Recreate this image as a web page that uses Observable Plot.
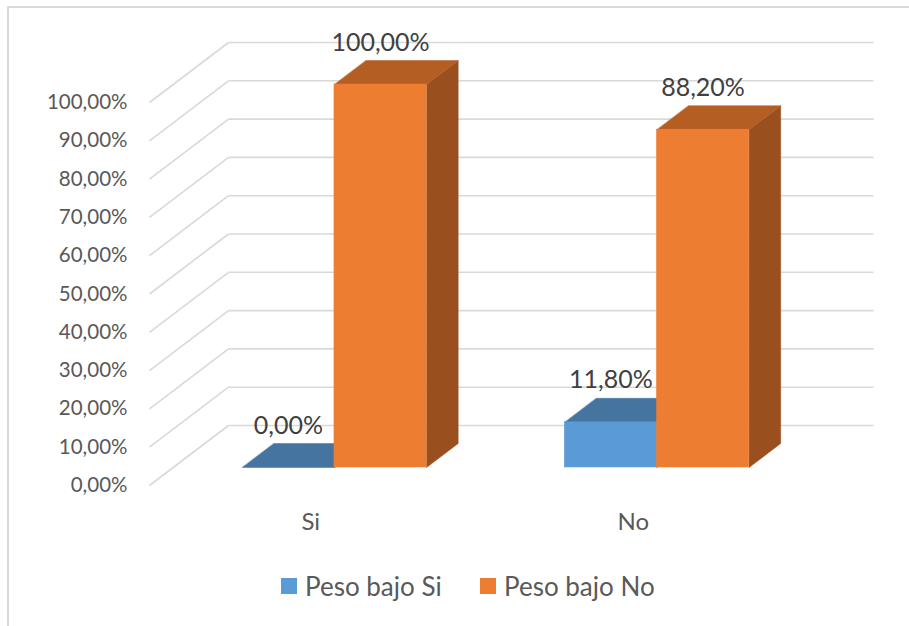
<!DOCTYPE html>
<html>
<head>
<meta charset="utf-8">
<script src="https://cdn.jsdelivr.net/npm/d3@7"></script>
<script src="https://cdn.jsdelivr.net/npm/@observablehq/plot@0.6"></script>
<style>
  html, body { margin: 0; padding: 0; background: #fff; }
  #wrap { position: relative; width: 909px; height: 626px; overflow: hidden; font-family: Lato, "Open Sans", sans-serif; }
  #frame { position: absolute; left: 7px; top: 6px; width: 1000px; height: 700px; border: 2px solid #D9D9D9; box-sizing: border-box; }
  #chart { position: absolute; left: 0; top: 0; }
  .leg { position: absolute; top: 571px; display: flex; align-items: center; font-size: 26px; color: #595959; line-height: 30px; }
  .sw { width: 16px; height: 16px; margin-right: 8px; }
</style>
</head>
<body>
<div id="wrap">
  <div id="frame"></div>
  <div id="chart"></div>
  <div class="leg" style="left:281px"><span class="sw" style="background:#5B9BD5"></span><span id="l0"></span></div>
  <div class="leg" style="left:480px"><span class="sw" style="background:#ED7D31"></span><span id="l1"></span></div>
</div>
<script>
const categories = ["Si", "No"];
const seriesNames = ["Peso bajo Si", "Peso bajo No"];
const pesoBajoSi = [0.0, 11.8];
const pesoBajoNo = [100.0, 88.2];
const yTicks = [0, 10, 20, 30, 40, 50, 60, 70, 80, 90, 100];

// 3D geometry (style constants)
const W = 909, H = 560;
const mL = 149, mR = 36, mT = 42, mB = 75;
const depthPxX = 79, depthPxY = 60;
const plotW = W - mL - mR, plotH = H - mT - mB;
const DX = 2 * depthPxX / (plotW - depthPxX);        // depth in x-data units
const DY = 100 * depthPxY / (plotH - depthPxY);      // depth in y-data units
const Z0 = 0.3, Z1 = 0.7;                             // bar depth span
const BW = 1 / 3.5;                                   // bar width (gap 150%)

const fmt = v => v.toFixed(2).replace(".", ",") + "%";

const seriesVals = [pesoBajoSi, pesoBajoNo];
const bars = [];
seriesVals.forEach((vals, s) => {
  categories.forEach((c, i) => {
    const xl = i + 0.5 - BW + s * BW;
    bars.push({s, c, i, v: vals[i], xl, xr: xl + BW, id: s + "-" + i});
  });
});

function topFace(b) {
  return [
    {id: b.id, x: b.xl + Z0 * DX, y: b.v + Z0 * DY},
    {id: b.id, x: b.xr + Z0 * DX, y: b.v + Z0 * DY},
    {id: b.id, x: b.xr + Z1 * DX, y: b.v + Z1 * DY},
    {id: b.id, x: b.xl + Z1 * DX, y: b.v + Z1 * DY}
  ];
}
function sideFace(b) {
  return [
    {id: b.id, x: b.xr + Z0 * DX, y: Z0 * DY},
    {id: b.id, x: b.xr + Z1 * DX, y: Z1 * DY},
    {id: b.id, x: b.xr + Z1 * DX, y: b.v + Z1 * DY},
    {id: b.id, x: b.xr + Z0 * DX, y: b.v + Z0 * DY}
  ];
}

const colors = [
  {front: "#5B9BD5", top: "#44749F", side: "#3F6E99"},
  {front: "#ED7D31", top: "#B55E23", side: "#9A4F1E"}
];

const barMarks = [];
[0, 1].forEach(s => {
  const bs = bars.filter(b => b.s === s);
  barMarks.push(Plot.line(bs.flatMap(sideFace), {x: "x", y: "y", z: "id", fill: colors[s].side, stroke: colors[s].side, strokeWidth: 0.5, curve: "linear-closed"}));
  barMarks.push(Plot.line(bs.flatMap(topFace), {x: "x", y: "y", z: "id", fill: colors[s].top, stroke: colors[s].top, strokeWidth: 0.5, curve: "linear-closed"}));
  barMarks.push(Plot.rect(bs, {x1: d => d.xl + Z0 * DX, x2: d => d.xr + Z0 * DX, y1: Z0 * DY, y2: d => d.v + Z0 * DY, fill: colors[s].front, stroke: colors[s].front, strokeWidth: 0.5}));
});

const chart = Plot.plot({
  width: W, height: H,
  marginLeft: mL, marginRight: mR, marginTop: mT, marginBottom: mB,
  x: {domain: [0, 2 + DX], axis: null},
  y: {domain: [0, 100 + DY], axis: null},
  style: {fontFamily: "Lato, 'Open Sans', sans-serif", color: "#595959", background: "transparent"},
  marks: [
    // side wall gridlines (diagonal)
    Plot.link(yTicks, {x1: 0, y1: d => d, x2: DX, y2: d => d + DY, stroke: "#D9D9D9", strokeWidth: 1.6}),
    // back wall gridlines
    Plot.link(yTicks, {x1: DX, y1: d => d + DY, x2: 2 + DX, y2: d => d + DY, stroke: "#D9D9D9", strokeWidth: 1.6}),
    Plot.axisY({ticks: yTicks, tickFormat: fmt, tickSize: 0, tickPadding: 22, fontSize: 20.5, fill: "#595959", label: null}),
    ...barMarks,
    Plot.text(bars, {x: d => (d.xl + d.xr) / 2 + Z0 * DX, y: d => d.v + Z0 * DY, dy: -42, text: d => fmt(d.v), fontSize: 25, fill: "#404040"}),
    Plot.text(categories, {x: (d, i) => i + 0.5, y: 0, dy: 37, text: d => d, fontSize: 24, fill: "#595959"})
  ]
});
document.getElementById("chart").appendChild(chart);
document.getElementById("l0").textContent = seriesNames[0];
document.getElementById("l1").textContent = seriesNames[1];
</script>
</body>
</html>
